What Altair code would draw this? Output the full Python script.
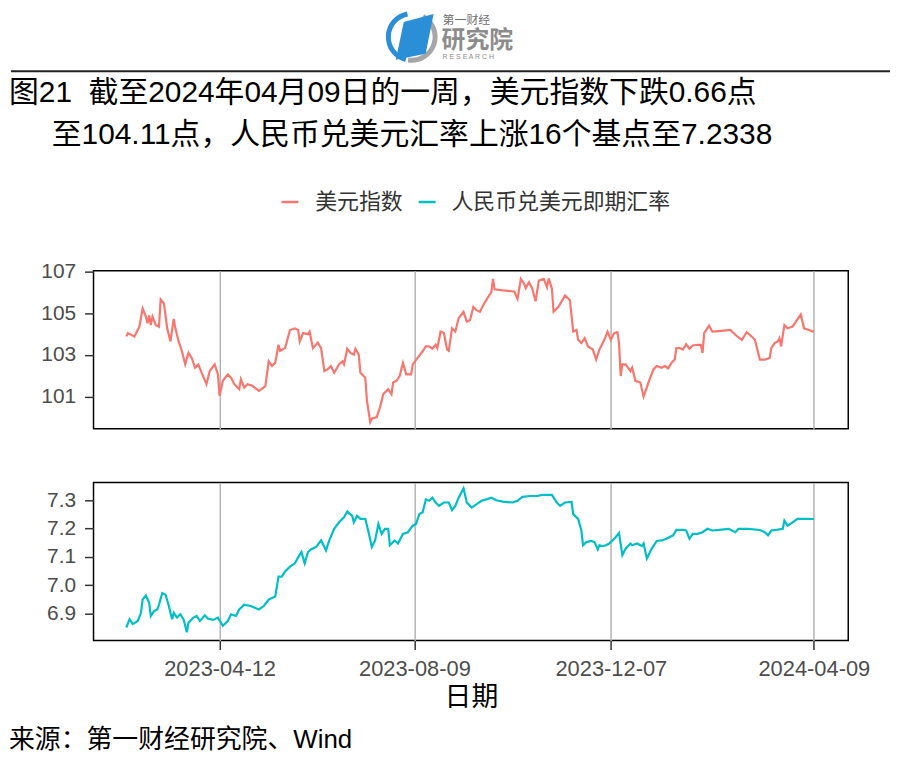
import altair as alt
import pandas as pd

FONT = "Liberation Sans, Noto Sans CJK SC, sans-serif"

# ---------------- data ----------------
usd_dates = [
    "2023-02-14", "2023-02-15", "2023-02-19", "2023-02-22", "2023-02-24", "2023-02-26", "2023-02-27", "2023-02-28",
    "2023-03-01", "2023-03-02", "2023-03-04", "2023-03-06", "2023-03-07", "2023-03-09", "2023-03-11", "2023-03-13",
    "2023-03-15", "2023-03-16", "2023-03-18", "2023-03-20", "2023-03-22", "2023-03-24", "2023-03-26", "2023-03-28",
    "2023-03-30", "2023-04-01", "2023-04-04", "2023-04-06", "2023-04-09", "2023-04-11", "2023-04-12", "2023-04-14",
    "2023-04-17", "2023-04-19", "2023-04-21", "2023-04-24", "2023-04-25", "2023-04-27", "2023-04-29", "2023-05-02",
    "2023-05-06", "2023-05-09", "2023-05-10", "2023-05-12", "2023-05-14", "2023-05-16", "2023-05-18", "2023-05-19",
    "2023-05-22", "2023-05-25", "2023-05-28", "2023-05-30", "2023-05-31", "2023-06-02", "2023-06-05", "2023-06-06",
    "2023-06-08", "2023-06-11", "2023-06-13", "2023-06-15", "2023-06-17", "2023-06-19", "2023-06-21", "2023-06-24",
    "2023-06-26", "2023-06-27", "2023-06-29", "2023-07-01", "2023-07-03", "2023-07-04", "2023-07-06", "2023-07-07",
    "2023-07-10", "2023-07-11", "2023-07-13", "2023-07-14", "2023-07-17", "2023-07-19", "2023-07-21", "2023-07-24",
    "2023-07-26", "2023-07-27", "2023-07-29", "2023-07-31", "2023-08-02", "2023-08-04", "2023-08-07", "2023-08-08",
    "2023-08-11", "2023-08-14", "2023-08-16", "2023-08-18", "2023-08-20", "2023-08-22", "2023-08-23", "2023-08-25",
    "2023-08-27", "2023-08-29", "2023-08-30", "2023-09-01", "2023-09-03", "2023-09-05", "2023-09-08", "2023-09-10",
    "2023-09-12", "2023-09-14", "2023-09-16", "2023-09-18", "2023-09-20", "2023-09-23", "2023-09-25", "2023-09-26",
    "2023-09-27", "2023-10-02", "2023-10-09", "2023-10-11", "2023-10-13", "2023-10-15", "2023-10-16", "2023-10-18",
    "2023-10-20", "2023-10-22", "2023-10-24", "2023-10-27", "2023-10-29", "2023-10-30", "2023-11-01", "2023-11-02",
    "2023-11-05", "2023-11-09", "2023-11-12", "2023-11-14", "2023-11-16", "2023-11-17", "2023-11-19", "2023-11-21",
    "2023-11-23", "2023-11-26", "2023-11-28", "2023-11-30", "2023-12-03", "2023-12-05", "2023-12-07", "2023-12-09",
    "2023-12-11", "2023-12-12", "2023-12-13", "2023-12-14", "2023-12-16", "2023-12-19", "2023-12-20", "2023-12-22",
    "2023-12-25", "2023-12-27", "2023-12-30", "2024-01-02", "2024-01-04", "2024-01-07", "2024-01-09", "2024-01-11",
    "2024-01-13", "2024-01-15", "2024-01-16", "2024-01-18", "2024-01-20", "2024-01-22", "2024-01-24", "2024-01-26",
    "2024-01-29", "2024-01-31", "2024-02-01", "2024-02-02", "2024-02-05", "2024-02-07", "2024-02-11", "2024-02-18",
    "2024-02-21", "2024-02-25", "2024-02-28", "2024-03-02", "2024-03-04", "2024-03-07", "2024-03-10", "2024-03-13",
    "2024-03-14", "2024-03-16", "2024-03-18", "2024-03-19", "2024-03-20", "2024-03-22", "2024-03-24", "2024-03-27",
    "2024-03-29", "2024-04-01", "2024-04-03", "2024-04-06", "2024-04-09",
]
usd_values = [
    103.89, 104.05, 103.89, 104.36, 105.23, 104.84, 104.52, 104.90,
    104.44, 104.84, 104.44, 104.36, 105.67, 105.47, 104.28, 103.65,
    104.73, 104.28, 103.65, 103.18, 102.55, 103.10, 102.86, 102.39,
    102.55, 102.15, 101.60, 102.23, 102.55, 102.07, 101.04, 101.76,
    102.07, 101.91, 101.60, 101.36, 101.83, 101.44, 101.60, 101.52,
    101.28, 101.44, 101.52, 102.70, 102.47, 102.62, 103.49, 103.20,
    103.33, 104.20, 104.28, 104.20, 103.65, 104.05, 104.00, 104.12,
    103.33, 103.60, 103.33, 102.23, 102.31, 102.47, 102.15, 102.55,
    102.70, 102.55, 103.30, 103.10, 103.02, 103.30, 103.02, 102.15,
    101.91, 100.81, 99.78, 99.94, 100.02, 100.49, 101.12, 101.36,
    101.12, 101.68, 101.76, 101.99, 102.62, 102.07, 102.07, 102.55,
    102.86, 103.18, 103.41, 103.41, 103.30, 103.49, 103.33, 104.12,
    104.05, 103.26, 103.20, 104.28, 104.12, 104.76, 105.07, 104.60,
    104.68, 105.31, 105.15, 105.07, 105.39, 105.78, 106.02, 106.65,
    106.15, 106.10, 106.05, 105.70, 106.65, 106.42, 106.21, 106.49,
    106.18, 105.58, 106.57, 106.65, 106.26, 106.68, 106.18, 105.07,
    105.31, 105.86, 105.63, 104.12, 104.20, 103.73, 103.57, 103.81,
    103.41, 103.26, 102.78, 103.26, 103.73, 104.12, 103.73, 104.05,
    104.10, 103.57, 101.99, 102.55, 102.55, 102.23, 102.39, 101.76,
    101.68, 101.00, 101.68, 102.31, 102.47, 102.39, 102.47, 102.36,
    102.62, 102.78, 103.33, 103.33, 103.26, 103.52, 103.30, 103.46,
    103.49, 103.49, 103.10, 104.05, 104.41, 104.12, 104.15, 104.20,
    103.97, 103.73, 104.10, 103.89, 103.73, 102.78, 102.78, 102.86,
    103.33, 103.57, 103.65, 103.81, 103.41, 104.44, 104.28, 104.36,
    104.60, 104.95, 104.28, 104.20, 104.11,
]

cny_dates = [
    "2023-02-14", "2023-02-16", "2023-02-18", "2023-02-21", "2023-02-23", "2023-02-24", "2023-02-26", "2023-02-28",
    "2023-03-01", "2023-03-03", "2023-03-05", "2023-03-06", "2023-03-08", "2023-03-10", "2023-03-12", "2023-03-14",
    "2023-03-15", "2023-03-17", "2023-03-19", "2023-03-21", "2023-03-23", "2023-03-24", "2023-03-27", "2023-03-29",
    "2023-03-31", "2023-04-03", "2023-04-05", "2023-04-08", "2023-04-11", "2023-04-14", "2023-04-17", "2023-04-19",
    "2023-04-22", "2023-04-24", "2023-04-27", "2023-05-01", "2023-05-06", "2023-05-09", "2023-05-12", "2023-05-16",
    "2023-05-18", "2023-05-20", "2023-05-22", "2023-05-25", "2023-05-28", "2023-05-30", "2023-06-01", "2023-06-03",
    "2023-06-05", "2023-06-07", "2023-06-10", "2023-06-13", "2023-06-16", "2023-06-18", "2023-06-21", "2023-06-24",
    "2023-06-27", "2023-06-29", "2023-07-02", "2023-07-03", "2023-07-05", "2023-07-07", "2023-07-10", "2023-07-12",
    "2023-07-14", "2023-07-16", "2023-07-18", "2023-07-20", "2023-07-22", "2023-07-24", "2023-07-25", "2023-07-28",
    "2023-07-30", "2023-08-02", "2023-08-05", "2023-08-08", "2023-08-10", "2023-08-12", "2023-08-14", "2023-08-16",
    "2023-08-18", "2023-08-20", "2023-08-22", "2023-08-24", "2023-08-27", "2023-08-30", "2023-09-01", "2023-09-03",
    "2023-09-05", "2023-09-08", "2023-09-10", "2023-09-13", "2023-09-16", "2023-09-19", "2023-09-22", "2023-09-25",
    "2023-09-28", "2023-10-02", "2023-10-08", "2023-10-11", "2023-10-14", "2023-10-19", "2023-10-23", "2023-10-26",
    "2023-11-01", "2023-11-04", "2023-11-06", "2023-11-09", "2023-11-13", "2023-11-14", "2023-11-17", "2023-11-19",
    "2023-11-20", "2023-11-22", "2023-11-25", "2023-11-27", "2023-11-29", "2023-11-30", "2023-12-02", "2023-12-04",
    "2023-12-06", "2023-12-08", "2023-12-10", "2023-12-12", "2023-12-14", "2023-12-16", "2023-12-19", "2023-12-20",
    "2023-12-23", "2023-12-26", "2023-12-27", "2023-12-29", "2024-01-01", "2024-01-04", "2024-01-07", "2024-01-10",
    "2024-01-12", "2024-01-14", "2024-01-16", "2024-01-20", "2024-01-22", "2024-01-24", "2024-01-26", "2024-01-29",
    "2024-02-01", "2024-02-04", "2024-02-07", "2024-02-11", "2024-02-17", "2024-02-21", "2024-02-23", "2024-02-29",
    "2024-03-07", "2024-03-10", "2024-03-12", "2024-03-14", "2024-03-17", "2024-03-21", "2024-03-22", "2024-03-24",
    "2024-03-27", "2024-03-30", "2024-04-03", "2024-04-09",
]
cny_values = [
    6.850, 6.879, 6.862, 6.873, 6.902, 6.949, 6.963, 6.937,
    6.891, 6.908, 6.914, 6.931, 6.972, 6.966, 6.926, 6.879,
    6.902, 6.885, 6.897, 6.879, 6.833, 6.867, 6.885, 6.891,
    6.873, 6.893, 6.881, 6.877, 6.885, 6.856, 6.873, 6.897,
    6.891, 6.914, 6.931, 6.926, 6.914, 6.926, 6.949, 6.960,
    7.030, 7.030, 7.048, 7.065, 7.077, 7.098, 7.117, 7.077,
    7.117, 7.127, 7.135, 7.158, 7.123, 7.158, 7.199, 7.222,
    7.240, 7.260, 7.245, 7.222, 7.245, 7.234, 7.234, 7.187,
    7.135, 7.158, 7.216, 7.181, 7.199, 7.199, 7.141, 7.158,
    7.147, 7.181, 7.187, 7.210, 7.216, 7.251, 7.257, 7.303,
    7.298, 7.309, 7.292, 7.280, 7.292, 7.292, 7.265, 7.280,
    7.309, 7.342, 7.292, 7.274, 7.286, 7.298, 7.303, 7.309,
    7.300, 7.295, 7.292, 7.298, 7.312, 7.315, 7.315, 7.319,
    7.319, 7.292, 7.280, 7.292, 7.294, 7.251, 7.234, 7.193,
    7.141, 7.152, 7.156, 7.152, 7.126, 7.141, 7.138, 7.141,
    7.147, 7.158, 7.170, 7.184, 7.106, 7.129, 7.147, 7.141,
    7.147, 7.138, 7.147, 7.094, 7.129, 7.156, 7.158, 7.164,
    7.170, 7.176, 7.195, 7.195, 7.193, 7.164, 7.181, 7.181,
    7.187, 7.199, 7.193, 7.195, 7.199, 7.187, 7.199, 7.199,
    7.195, 7.187, 7.176, 7.193, 7.195, 7.199, 7.228, 7.210,
    7.222, 7.234, 7.234, 7.2338,
]

series_names = ["美元指数", "人民币兑美元即期汇率"]
series_colors = ["#F8766D", "#00BFC4"]
x_tick_dates = ["2023-04-12", "2023-08-09", "2023-12-07", "2024-04-09"]
x_domain = ["2023-01-25", "2024-04-30"]
usd_ticks = [101, 103, 105, 107]
usd_domain = [99.46, 107.05]
cny_ticks = [6.9, 7.0, 7.1, 7.2, 7.3]
cny_domain = [6.804, 7.363]
title_line1 = "图21\u00a0\u00a0截至2024年04月09日的一周，美元指数下跌0.66点"
title_line2 = "至104.11点，人民币兑美元汇率上涨16个基点至7.2338"
x_title = "日期"
source_text = "来源：第一财经研究院、Wind"
logo_small = "第一财经"
logo_big = "研究院"
logo_en = "R E S E A R C H"

W, H = 759, 159


def dt(s):
    y, m, d = (int(v) for v in s.split("-"))
    return alt.DateTime(year=y, month=m, date=d, utc=True)


x_scale = alt.Scale(type="utc", domain=[dt(s) for s in x_domain])
x_values = [dt(s) for s in x_tick_dates]


def label(text, x, y, size, color="#000000", align="left", weight="normal"):
    return alt.Chart(pd.DataFrame({"t": [text]})).mark_text(
        align=align, baseline="middle", fontSize=size, color=color,
        fontWeight=weight, font=FONT
    ).encode(x=alt.value(x), y=alt.value(y), text="t:N")


def hrule(x1, x2, y, color, width):
    return alt.Chart(pd.DataFrame({"a": [0]})).mark_rule(
        color=color, strokeWidth=width
    ).encode(x=alt.value(x1), x2=alt.value(x2), y=alt.value(y))


# ---------------- top panel ----------------
usd_df = pd.DataFrame({"date": usd_dates, "value": usd_values})
top_line = alt.Chart(usd_df).mark_line(color=series_colors[0], strokeWidth=2.2).encode(
    x=alt.X("date:T", scale=x_scale,
            axis=alt.Axis(values=x_values, grid=True, gridColor="#b3b3b3", gridWidth=1.5,
                          labels=False, ticks=False, domain=False, title=None)),
    y=alt.Y("value:Q", scale=alt.Scale(domain=usd_domain, nice=False, zero=False),
            axis=alt.Axis(values=usd_ticks, grid=False, domain=False, title=None,
                          tickColor="#333333", tickWidth=1.5, tickSize=9,
                          labelFontSize=21, labelColor="#4d4d4d", labelPadding=9,
                          labelFont=FONT)),
)

# logo
logo_cx, logo_cy = 320, -235
ring_blue = alt.Chart(pd.DataFrame({"a": [0]})).mark_arc(
    radius=26, radius2=21, theta=3.4, theta2=6.1, color="#2a8fd6"
).encode(x=alt.value(logo_cx), y=alt.value(logo_cy))
ring_gray = alt.Chart(pd.DataFrame({"a": [0]})).mark_arc(
    radius=26, radius2=21, theta=0.5, theta2=3.3, color="#a6a6a6"
).encode(x=alt.value(logo_cx), y=alt.value(logo_cy))
logo_page = alt.Chart(pd.DataFrame({"a": [0]})).mark_point(
    shape="M -0.44 -0.62 L 0.76 -0.94 L 0.44 0.66 L -0.76 0.9 Z",
    filled=True, size=2500, color="#2a8fd6", opacity=1
).encode(x=alt.value(logo_cx + 3), y=alt.value(logo_cy + 0.5))

decor_top = [
    ring_blue, ring_gray, logo_page,
    label(logo_small, 351, -252, 12, "#707070"),
    label(logo_big, 350, -231, 24, "#8c8c8c", weight="bold"),
    label(logo_en, 351, -215, 7, "#8c8c8c"),
    hrule(-83, 801, -200.5, "#222222", 2),
    label(title_line1, -85, -179, 30),
    label(title_line2, -42, -136, 30),
    hrule(189, 206, -69, series_colors[0], 2.5),
    label(series_names[0], 223, -69, 22, "#333333"),
    hrule(327, 344, -69, series_colors[1], 2.5),
    label(series_names[1], 360, -69, 22, "#333333"),
]

top = alt.layer(top_line, *decor_top).properties(width=W, height=H)

# ---------------- bottom panel ----------------
cny_df = pd.DataFrame({"date": cny_dates, "value": cny_values})
bottom_line = alt.Chart(cny_df).mark_line(color=series_colors[1], strokeWidth=2.2).encode(
    x=alt.X("date:T", scale=x_scale,
            axis=alt.Axis(values=x_values, grid=True, gridColor="#b3b3b3", gridWidth=1.5,
                          labelExpr="utcFormat(datum.value, '%Y-%m-%d')", labelFlush=False,
                          domain=False, tickColor="#333333", tickWidth=1.5, tickSize=9,
                          labelFontSize=22, labelColor="#4d4d4d", labelPadding=9,
                          labelFont=FONT, title=x_title, titleFont=FONT,
                          titleFontSize=27, titleFontWeight="normal", titleColor="#000000",
                          titlePadding=5)),
    y=alt.Y("value:Q", scale=alt.Scale(domain=cny_domain, nice=False, zero=False),
            axis=alt.Axis(values=cny_ticks, format=".1f", grid=False, domain=False, title=None,
                          tickColor="#333333", tickWidth=1.5, tickSize=9,
                          labelFontSize=21, labelColor="#4d4d4d", labelPadding=9,
                          labelFont=FONT)),
)

bottom = alt.layer(
    bottom_line,
    label(source_text, -85, 259, 26),
).properties(width=W, height=H)

chart = alt.vconcat(top, bottom, spacing=52).properties(padding=0).configure_view(
    stroke="#000000", strokeWidth=1.5
)

chart.save("out.html", embed_options={"renderer": "svg", "actions": False})
